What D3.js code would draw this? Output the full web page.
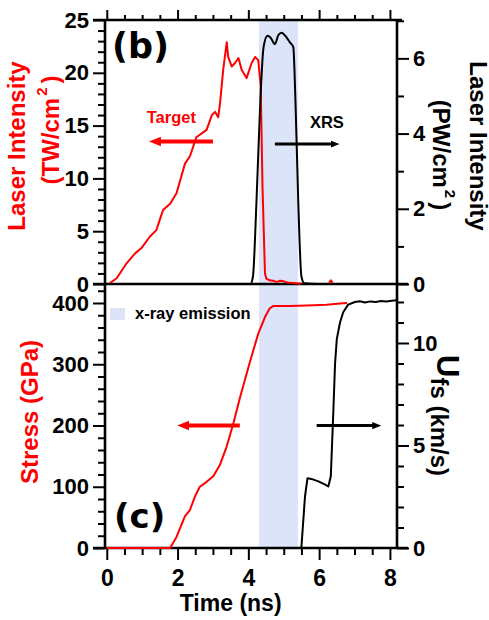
<!DOCTYPE html>
<html><head><meta charset="utf-8">
<script src="https://cdn.jsdelivr.net/npm/d3@7"></script>
<style>
body{margin:0;background:#fff;}
text{font-family:"Liberation Sans",Arial,sans-serif;font-weight:bold;}
</style></head>
<body><svg id="c" width="489" height="620"></svg>
<script>
// ---- data ----
const laserT = [0.05,0.28,0.56,0.80,0.98,1.22,1.40,1.59,1.79,1.97,2.21,2.35,2.53,2.82,2.97,3.06,3.15,3.20,3.29,3.39,3.43,3.53,3.62,3.72,3.81,3.95,4.09,4.19,4.28,4.35,4.40,4.47,4.51,4.60,4.70,4.80,4.90,5.00,5.10,5.20,5.30,5.40,5.50,5.55,6.28,6.33,6.38];
const laserI = [0,0.54,1.96,2.9,3.4,4.5,5.1,7.0,7.6,8.6,11.4,12.1,13.9,14.6,16.0,16.3,15.8,17.1,20.3,22.9,21.5,20.6,20.9,21.4,20.3,19.5,20.9,21.5,21.2,18.7,9.2,1.0,0.5,0.35,0.3,0.2,0.3,0.25,0.15,0.12,0.1,0.05,0.05,null,0.1,0.35,0.1];
const xrsT = [0,4.06,4.13,4.23,4.34,4.43,4.54,4.63,4.75,4.85,4.94,5.04,5.18,5.27,5.33,5.41,5.50,5.58,6.0,7.0,8.2];
const xrsP = [0,0,0.2,2.2,4.9,6.3,6.6,6.55,6.38,6.62,6.68,6.6,6.42,6.3,4.9,2.2,0.2,0.02,0,0,0];
const stressT = [0,1.79,1.97,2.21,2.35,2.49,2.63,2.82,3.01,3.2,3.39,3.58,3.76,4.05,4.28,4.47,4.6,4.7,5.17,5.64,6.21,6.59,6.79];
const stressS = [0,0,18,52,62,84,100,108,117,136,166,204,245,305,350,377,391,395,395,396,397,399,400];
const ufsT = [3.4,5.45,5.5,5.6,5.67,5.78,5.98,6.17,6.26,6.33,6.4,6.45,6.5,6.59,6.68,6.82,7.01,7.15,7.3,7.45,7.6,7.75,7.9,8.05,8.2];
const ufsU = [0,0,0.06,2.5,3.4,3.37,3.25,3.09,3.0,3.5,6.6,9.0,10.2,11.0,11.5,11.87,12.0,12.04,11.98,12.03,12.0,12.05,12.02,12.06,12.08];
const xrayBand = [4.30,5.40];
const xTicks = [0,2,4,6,8];
const laserTicks = [0,5,10,15,20,25];
const pwTicks = [0,2,4,6];
const stressTicks = [0,100,200,300,400];
const ufsTicks = [0,5,10];

// ---- layout ----
const svg = d3.select("#c");
const L=105,R=397,T=20,MID=284,B=548;
const RED="#ff0000", SHADE="#dce4fa";
const x = d3.scaleLinear().domain([-0.05,8.2]).range([L,R]);
const yI = d3.scaleLinear().domain([0,25]).range([MID,T]);
const yP = d3.scaleLinear().domain([0,7.02]).range([MID,T]);
const yS = d3.scaleLinear().domain([0,400]).range([B,303]);
const yU = d3.scaleLinear().domain([0,10]).range([B,343]);

// shaded x-ray band
svg.append("rect").attr("x",x(xrayBand[0])).attr("width",x(xrayBand[1])-x(xrayBand[0]))
  .attr("y",T).attr("height",B-T).attr("fill",SHADE);

function axisG(axis, tx, ty, size){
  const g = svg.append("g").attr("transform",`translate(${tx},${ty})`).call(axis);
  g.select(".domain").remove();
  g.selectAll(".tick line").attr("stroke","#000").attr("stroke-width",2);
  g.selectAll(".tick text").attr("fill","#000").style("font-size",size+"px")
    .style("font-family","Liberation Sans, Arial, sans-serif").style("font-weight","bold");
  return g;
}
const rng=(a,b,s)=>d3.range(a,b+1e-9,s);
// x axes
axisG(d3.axisBottom(x).tickValues(rng(0,8,0.5).filter(v=>v%2)).tickSize(7).tickFormat(""),0,B);
axisG(d3.axisBottom(x).tickValues(xTicks).tickSize(12).tickPadding(10).tickFormat(d3.format("d")),0,B,23);
axisG(d3.axisTop(x).tickValues(rng(0,8,0.5).filter(v=>v%2)).tickSize(5).tickFormat(""),0,T);
axisG(d3.axisTop(x).tickValues(xTicks).tickSize(10).tickFormat(""),0,T);
// top left
axisG(d3.axisLeft(yI).tickValues(rng(0,25,1).filter(v=>v%5)).tickSize(7).tickFormat(""),L,0);
axisG(d3.axisLeft(yI).tickValues(laserTicks).tickSize(12).tickPadding(4).tickFormat(d3.format("d")),L,0,22);
// top right
axisG(d3.axisRight(yP).tickValues([1,3,5,7]).tickSize(7).tickFormat(""),R,0);
axisG(d3.axisRight(yP).tickValues(pwTicks).tickSize(12).tickPadding(4).tickFormat(d3.format("d")),R,0,22);
// bottom left
axisG(d3.axisLeft(yS).tickValues(rng(0,420,20).filter(v=>v%100)).tickSize(7).tickFormat(""),L,0);
axisG(d3.axisLeft(yS).tickValues(stressTicks).tickSize(12).tickPadding(4).tickFormat(d3.format("d")),L,0,22);
// bottom right
axisG(d3.axisRight(yU).tickValues(rng(0,12,1).filter(v=>v%5)).tickSize(7).tickFormat(""),R,0);
axisG(d3.axisRight(yU).tickValues(ufsTicks).tickSize(12).tickPadding(4).tickFormat(d3.format("d")),R,0,22);

// frame lines
const fl=(x1,y1,x2,y2)=>svg.append("line").attr("x1",x1).attr("y1",y1).attr("x2",x2).attr("y2",y2)
  .attr("stroke","#000").attr("stroke-width",2.6);
fl(L,T-1,L,B+1); fl(R,T-1,R,B+1);
fl(93,T,402,T); fl(93,MID,408,MID); fl(93,B,408,B);

// curves
function curve(ts, vs, ys, color, w, cv){
  const data = ts.map((t,i)=>[t,vs[i]]);
  svg.append("path").datum(data)
    .attr("d", d3.line().defined(d=>d[1]!=null).x(d=>x(d[0])).y(d=>ys(d[1])).curve(cv||d3.curveLinear))
    .attr("fill","none").attr("stroke",color).attr("stroke-width",w).attr("stroke-linejoin","round");
}
curve(laserT,laserI,yI,RED,2);
curve(xrsT,xrsP,yP,"#000",2,d3.curveMonotoneX);
curve(stressT,stressS,yS,RED,2);
curve(ufsT,ufsU,yU,"#000",2);

// arrows
const defs=svg.append("defs");
function marker(id,color){
  defs.append("marker").attr("id",id).attr("viewBox","0 0 10 10").attr("refX",5).attr("refY",5)
   .attr("markerWidth",3).attr("markerHeight",3).attr("orient","auto-start-reverse")
   .append("path").attr("d","M0,1 L10,5 L0,9 z").attr("fill",color);
}
marker("mr",RED); marker("mk","#000");
function arrow(t0,t1,y,color,id,w){
  svg.append("line").attr("x1",x(t0)).attr("x2",x(t1)-(t1<t0?-5:5)).attr("y1",y).attr("y2",y)
   .attr("stroke",color).attr("stroke-width",w).attr("marker-end",`url(#${id})`);
}
arrow(3.0,1.22,yI(13.5),RED,"mr",4);
arrow(4.75,6.59,yP(3.72),"#000","mk",3);
arrow(3.76,2.02,yS(200),RED,"mr",4);
arrow(5.93,7.77,yU(5.97),"#000","mk",3);

// annotations
svg.append("text").attr("x",x(1.13)).attr("y",yI(15.25)).attr("fill",RED).style("font-size","16.5px").text("Target");
svg.append("text").attr("x",x(5.74)).attr("y",yP(4.15)).attr("fill","#000").style("font-size","16.5px").text("XRS");
svg.append("text").attr("x",112).attr("y",58).style("font-family","DejaVu Sans").style("font-size","35px").text("(b)");
svg.append("text").attr("x",114).attr("y",528).style("font-family","DejaVu Sans").style("font-size","34px").text("(c)");
// legend
svg.append("rect").attr("x",110).attr("y",308).attr("width",15).attr("height",12).attr("fill",SHADE);
svg.append("text").attr("x",135).attr("y",319).style("font-size","16.5px").text("x-ray emission");

// axis titles
function rot(tx,ty,ang,color,size){
  return svg.append("text").attr("transform",`translate(${tx},${ty}) rotate(${ang})`)
    .attr("text-anchor","middle").attr("fill",color).style("font-size",size+"px");
}
rot(25,146,-90,RED,24).text("Laser Intensity");
const t2=rot(59,130,-90,RED,24); t2.append("tspan").text("(TW/cm");
t2.append("tspan").attr("dx",2).attr("dy",-12).style("font-size","15px").text("2");
t2.append("tspan").attr("dx",4).attr("dy",12).text(")");
rot(470,146,90,"#000",24).text("Laser Intensity");
const t3=rot(433,155,90,"#000",24); t3.append("tspan").text("(PW/cm");
t3.append("tspan").attr("dx",2).attr("dy",-12).style("font-size","15px").text("2");
t3.append("tspan").attr("dx",4).attr("dy",12).text(")");
rot(38,412,-90,RED,24).text("Stress (GPa)");
const tu=svg.append("text").attr("transform","translate(437,355) rotate(90)").attr("fill","#000");
tu.append("tspan").style("font-size","31px").text("U");
tu.append("tspan").attr("dy",6).style("font-size","24px").text("fs (km/s)");
svg.append("text").attr("x",x(3.5)).attr("y",611).attr("text-anchor","middle").style("font-size","23px").text("Time (ns)");
</script></body></html>
